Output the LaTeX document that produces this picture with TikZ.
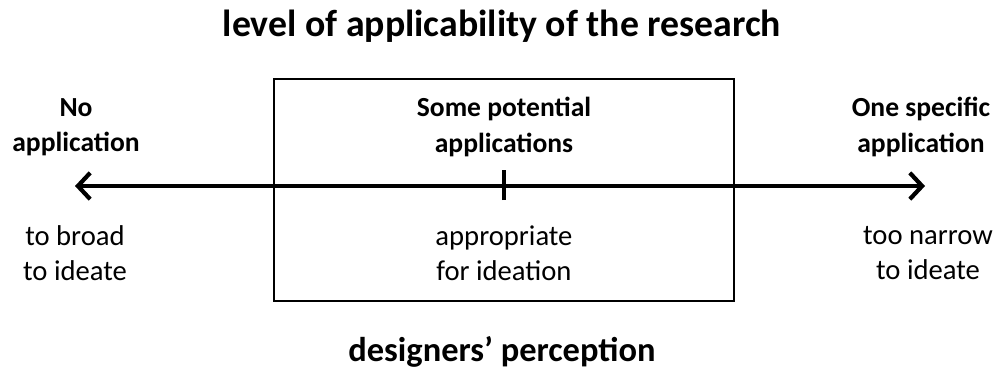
\documentclass[tikz,border=0pt]{standalone}
\usepackage{fontspec}
\setmainfont{Carlito}
\usetikzlibrary{arrows.meta}
\tikzset{
  txt/.style={align=center,inner sep=0pt,font=\fontsize{16.3}{20}\selectfont},
  hd/.style={align=center,inner sep=0pt,font=\bfseries\fontsize{15.7}{20}\selectfont},
  title/.style={inner sep=0pt,font=\bfseries\fontsize{21.5}{24}\selectfont},
  axis/.style={line width=2.4pt},
}
\begin{document}
\begin{tikzpicture}[x=0.02cm,y=-0.02cm]
\useasboundingbox (0,0) rectangle (1003,376);

\node[title] (top) at (502,26) {level of applicability of the research};
\node[title,font=\bfseries\fontsize{19.6}{24}\selectfont] (bottom) at (502,352) {designers’ perception};

\draw[line width=1.1pt] (274,79) rectangle (734,301);

\coordinate (lend) at (75,186);
\coordinate (rend) at (925,186);
\coordinate (mid) at (504,186);
\draw[axis,{Straight Barb[length=7pt,width=15pt]}-{Straight Barb[length=7pt,width=15pt]}] (lend) -- (rend);
\draw[axis] ([yshift=-8pt]mid) -- ([yshift=9pt]mid);

\node[hd] (none) at (76,127) {No\\application};
\node[hd] (some) at (504,127) {Some potential\\applications};
\node[hd] (one) at (921,127) {One specific\\application};

\node[txt] (broad) at (75,253) {to broad\\to ideate};
\node[txt] (fit) at (504,253) {appropriate\\for ideation};
\node[txt] (narrow) at (928,253) {too narrow\\to ideate};
\end{tikzpicture}
\end{document}
